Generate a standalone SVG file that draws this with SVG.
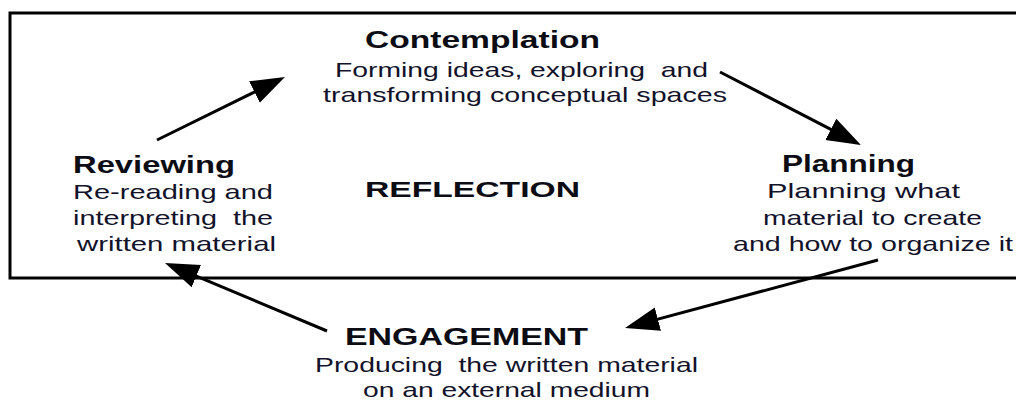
<svg xmlns="http://www.w3.org/2000/svg" width="1016" height="400" viewBox="0 0 1016 400">
<style>
.h{font-family:"Liberation Sans",Arial,sans-serif;font-weight:bold;font-size:23px;fill:#0c0c14;}
.b{font-family:"Liberation Sans",Arial,sans-serif;font-size:21px;fill:#12122a;}
.c{stroke:#000;stroke-width:3;fill:none;marker-end:url(#ah);}
</style>
<defs>
<marker id="ah" markerUnits="userSpaceOnUse" markerWidth="36" markerHeight="26" refX="24" refY="12" orient="auto">
<path d="M0,0 L34,12 L0,24 z" fill="#000"/>
</marker>
</defs>
<rect x="0" y="0" width="1016" height="400" fill="#fff"/>
<rect id="reflection-frame" x="10" y="13" width="1020" height="265" fill="none" stroke="#000" stroke-width="3"/>
<g id="connectors">
<line class="c" x1="157" y1="140" x2="276" y2="81.4"/>
<line class="c" x1="720" y1="72" x2="852.1" y2="140.4"/>
<line class="c" x1="878" y1="260" x2="634.7" y2="325.4"/>
<line class="c" x1="327" y1="331" x2="174.2" y2="266.9"/>
</g>
<g id="contemplation">
<text class="h" x="365" y="48" textLength="235" lengthAdjust="spacingAndGlyphs">Contemplation</text>
<text class="b" x="335" y="77" textLength="373" lengthAdjust="spacingAndGlyphs" xml:space="preserve">Forming ideas, exploring  and</text>
<text class="b" x="323" y="102" textLength="404" lengthAdjust="spacingAndGlyphs">transforming conceptual spaces</text>
</g>
<g id="reviewing">
<text class="h" x="73" y="173" textLength="162" lengthAdjust="spacingAndGlyphs">Reviewing</text>
<text class="b" x="73" y="199" textLength="200" lengthAdjust="spacingAndGlyphs">Re-reading and</text>
<text class="b" x="73" y="225" textLength="200" lengthAdjust="spacingAndGlyphs" xml:space="preserve">interpreting  the</text>
<text class="b" x="77" y="251" textLength="199" lengthAdjust="spacingAndGlyphs">written material</text>
</g>
<g id="reflection">
<text class="h" x="365" y="197" textLength="215" lengthAdjust="spacingAndGlyphs" style="font-size:22px">REFLECTION</text>
</g>
<g id="planning">
<text class="h" x="782" y="172" textLength="133" lengthAdjust="spacingAndGlyphs">Planning</text>
<text class="b" x="767" y="198" textLength="193" lengthAdjust="spacingAndGlyphs">Planning what</text>
<text class="b" x="763" y="225" textLength="219" lengthAdjust="spacingAndGlyphs">material to create</text>
<text class="b" x="733" y="251" textLength="280" lengthAdjust="spacingAndGlyphs">and how to organize it</text>
</g>
<g id="engagement">
<text class="h" x="345" y="345" textLength="243" lengthAdjust="spacingAndGlyphs">ENGAGEMENT</text>
<text class="b" x="315" y="372" textLength="383" lengthAdjust="spacingAndGlyphs" xml:space="preserve">Producing  the written material</text>
<text class="b" x="363" y="397" textLength="287" lengthAdjust="spacingAndGlyphs">on an external medium</text>
</g>
</svg>
